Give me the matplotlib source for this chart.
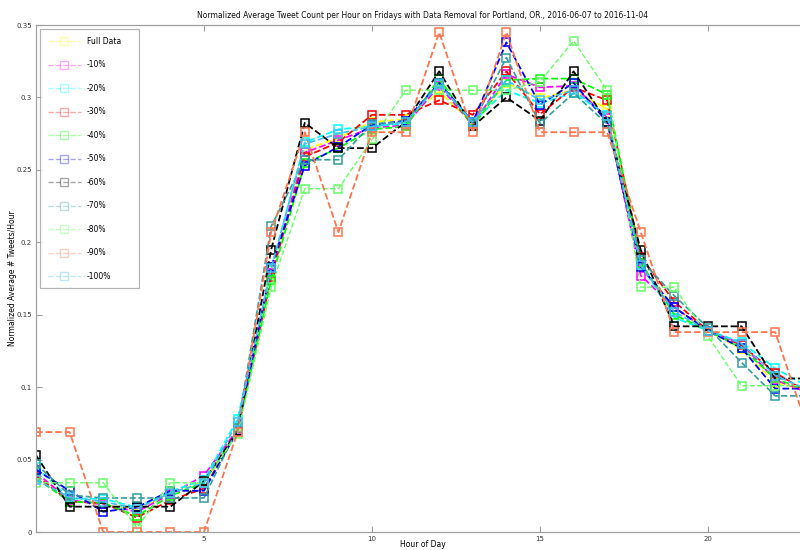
import matplotlib
matplotlib.use("Agg")
import matplotlib.pyplot as plt
from matplotlib.lines import Line2D

# Data
hours = list(range(24))
labels = ["Full Data", "-10%", "-20%", "-30%", "-40%", "-50%", "-60%", "-70%", "-80%", "-90%", "-100%"]
full_data = [0.040, 0.022, 0.019, 0.015, 0.027, 0.035, 0.070, 0.178, 0.264, 0.272, 0.283, 0.285,
             0.304, 0.282, 0.310, 0.2995, 0.305, 0.292, 0.183, 0.155, 0.139, 0.126, 0.103, 0.098]
rem_10 = [0.041, 0.022, 0.019, 0.014, 0.026, 0.039, 0.071, 0.179, 0.262, 0.2705, 0.279, 0.281,
          0.308, 0.281, 0.316, 0.307, 0.308, 0.286, 0.177, 0.155, 0.139, 0.130, 0.105, 0.096]
rem_20 = [0.045, 0.023, 0.023, 0.017, 0.028, 0.036, 0.078, 0.181, 0.269, 0.278, 0.280, 0.282,
          0.310, 0.283, 0.305, 0.296, 0.303, 0.288, 0.185, 0.148, 0.139, 0.131, 0.113, 0.100]
rem_30 = [0.039, 0.021, 0.020, 0.010, 0.022, 0.030, 0.070, 0.176, 0.259, 0.269, 0.288, 0.288,
          0.298, 0.288, 0.318, 0.2885, 0.307, 0.298, 0.190, 0.159, 0.139, 0.129, 0.110, 0.096]
rem_40 = [0.037, 0.021, 0.020, 0.011, 0.025, 0.034, 0.070, 0.174, 0.2545, 0.265, 0.278, 0.280,
          0.313, 0.280, 0.312, 0.313, 0.313, 0.302, 0.186, 0.150, 0.139, 0.127, 0.106, 0.097]
rem_50 = [0.043, 0.0285, 0.014, 0.017, 0.0285, 0.0285, 0.070, 0.183, 0.253, 0.266, 0.281, 0.284,
          0.310, 0.283, 0.338, 0.295, 0.310, 0.283, 0.183, 0.155, 0.139, 0.127, 0.099, 0.099]
rem_60 = [0.053, 0.0175, 0.0175, 0.0175, 0.0175, 0.035, 0.070, 0.195, 0.2825, 0.265, 0.265, 0.283,
          0.318, 0.280, 0.300, 0.284, 0.318, 0.283, 0.1946, 0.142, 0.142, 0.142, 0.106, 0.106]
rem_70 = [0.047, 0.0255, 0.0235, 0.0235, 0.0235, 0.0235, 0.072, 0.211, 0.257, 0.257, 0.282, 0.283,
          0.310, 0.282, 0.3275, 0.282, 0.303, 0.2816, 0.188, 0.163, 0.141, 0.117, 0.094, 0.094]
rem_80 = [0.034, 0.034, 0.034, 0.003, 0.034, 0.034, 0.068, 0.169, 0.237, 0.237, 0.271, 0.305,
          0.305, 0.305, 0.305, 0.311, 0.339, 0.305, 0.169, 0.169, 0.135, 0.101, 0.101, 0.101]
rem_90 = [0.069, 0.069, 0.0, 0.0, 0.0, 0.0, 0.069, 0.207, 0.276, 0.207, 0.276, 0.276,
          0.345, 0.276, 0.345, 0.276, 0.276, 0.276, 0.207, 0.138, 0.138, 0.138, 0.138, 0.069]
rem_100 = [0.036, 0.024, 0.021, 0.016, 0.027, 0.034, 0.076, 0.182, 0.268, 0.275, 0.280, 0.283,
           0.309, 0.283, 0.312, 0.298, 0.305, 0.287, 0.184, 0.152, 0.139, 0.130, 0.108, 0.098]
series = [full_data, rem_10, rem_20, rem_30, rem_40, rem_50, rem_60, rem_70, rem_80, rem_90, rem_100]
y_ticks = [0, 0.05, 0.1, 0.15, 0.2, 0.25, 0.3, 0.35]
y_tick_labels = ["0", "0.05", "0.1", "0.15", "0.2", "0.25", "0.3", "0.35"]
x_ticks = [5, 10, 15, 20]

# Styles
COLOURS = [(1, 1, 0), (1, 0, 1), (0, 1, 1), (1, 0, 0), (0, 1, 0), (0, 0, 1), (0, 0, 0),
           (0.2, 0.62, 0.62), (0.4, 1, 0.4), (1, 0.45, 0.3), (0.25, 0.75, 0.95)]
WIDTHS = [1.3, 1.3, 1.3, 1.3, 1.3, 1.3, 1.3, 1.2, 1.0, 1.3, 1.2]
AXIS_GREY = "#a0a0a0"

fig = plt.figure(figsize=(8, 5.5), dpi=100)
ax = fig.add_axes([0.045, 0.0327, 0.966, 0.9218])

for values, colour, lw in zip(series, COLOURS, WIDTHS):
    ax.plot(hours, values, linestyle="--", color=colour, linewidth=lw, marker="s",
            markersize=6, markerfacecolor="none", markeredgecolor=colour, markeredgewidth=1.1)

ax.set_xlim(0, 23)
ax.set_ylim(0, 0.35)
ax.set_xticks(x_ticks)
ax.set_xticklabels([str(x) for x in x_ticks])
ax.set_yticks(y_ticks)
ax.set_yticklabels(y_tick_labels)
ax.tick_params(direction="in", length=4, width=0.8, color=AXIS_GREY, labelsize=5,
               top=True, labelcolor="#333333", pad=3)
for spine in ax.spines.values():
    spine.set_color(AXIS_GREY)
    spine.set_linewidth(0.9)

ax.set_title("Normalized Average Tweet Count per Hour on Fridays with Data Removal for Portland, OR., 2016-06-07 to 2016-11-04",
             fontsize=5.5, pad=5, color="#111111")
ax.set_xlabel("Hour of Day", fontsize=5.5, va="center")
ax.xaxis.set_label_coords(0.5, -0.0237)
ax.set_ylabel("Normalized Average # Tweets/Hour", fontsize=5.5, va="center")
ax.yaxis.set_label_coords(-0.031, 0.5)

# Faded legend handles
handles = [Line2D([], [], linestyle="--", color=c, linewidth=1.0, marker="s", markersize=6,
                  markerfacecolor="none", markeredgecolor=c, alpha=0.35) for c in COLOURS]
leg = ax.legend(handles, labels, loc="upper left", bbox_to_anchor=(0.0052, 0.5, 0.128, 0.492),
                mode="expand", fontsize=5.5, frameon=True, fancybox=False, edgecolor=AXIS_GREY,
                handlelength=4.4, handletextpad=0.7, labelspacing=1.9, borderpad=1.0,
                borderaxespad=0.0)
leg.get_frame().set_linewidth(0.9)

fig.savefig("out.png", dpi=100)
